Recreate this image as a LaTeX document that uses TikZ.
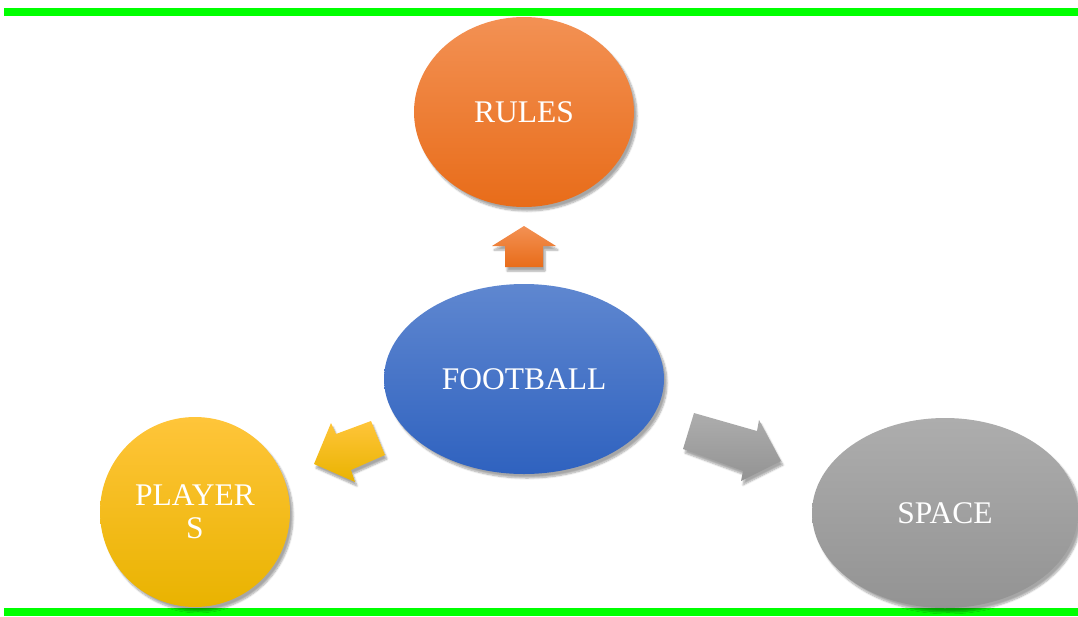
\documentclass[tikz,border=0pt]{standalone}
\usepackage{fontspec}
\setmainfont{Liberation Serif}
\usetikzlibrary{shapes.geometric,shadows.blur}
\begin{document}
\begin{tikzpicture}[x=1pt,y=-1pt,
  bubble/.style={ellipse,inner sep=0pt,text=white,font=\fontsize{31.5}{33}\selectfont,align=center,
    blur shadow={shadow xshift=3pt,shadow yshift=-4pt,shadow blur steps=8,shadow opacity=35}},
  blockarrow/.style={blur shadow={shadow xshift=2pt,shadow yshift=-4pt,shadow blur steps=6,shadow opacity=35}}]
\useasboundingbox (0,0) rectangle (1078,616);
\definecolor{orT}{HTML}{F39154}\definecolor{orB}{HTML}{E86C19}
\definecolor{blT}{HTML}{5F87D0}\definecolor{blB}{HTML}{2F62BF}
\definecolor{yeT}{HTML}{FFC53A}\definecolor{yeB}{HTML}{E9B300}
\definecolor{grT}{HTML}{ADADAD}\definecolor{grB}{HTML}{939393}
\definecolor{lime}{HTML}{00FF00}
\fill[lime] (4,8) rectangle (1078,16);
\fill[lime] (4,608) rectangle (1078,616);
\node[bubble,minimum width=220pt,minimum height=190pt,top color=orT,bottom color=orB] (rules) at (524,112) {RULES};
\node[bubble,minimum width=280pt,minimum height=190pt,top color=blT,bottom color=blB] (football) at (524,379) {FOOTBALL};
\node[bubble,minimum width=190pt,minimum height=190pt,top color=yeT,bottom color=yeB] (players) at (195,512) {PLAYER\\S};
\node[bubble,minimum width=266pt,minimum height=190pt,top color=grT,bottom color=grB] (space) at (945,513) {SPACE};
% up arrow
\shade[blockarrow,top color=orT,bottom color=orB] (524,226) -- (556,246) -- (543,246) -- (543,267) -- (505,267) -- (505,246) -- (492,246) -- cycle;
% left arrow
\shade[blockarrow,top color=yeT,bottom color=yeB] (314,464) -- (331,423) -- (336,434) -- (371,421) -- (385,455) -- (351,470) -- (355,482) -- cycle;
% right arrow
\shade[blockarrow,top color=grT,bottom color=grB] (781,461) -- (741,481) -- (743,471) -- (683,449) -- (694,413) -- (757,431) -- (759,420) -- cycle;
\end{tikzpicture}
\end{document}
